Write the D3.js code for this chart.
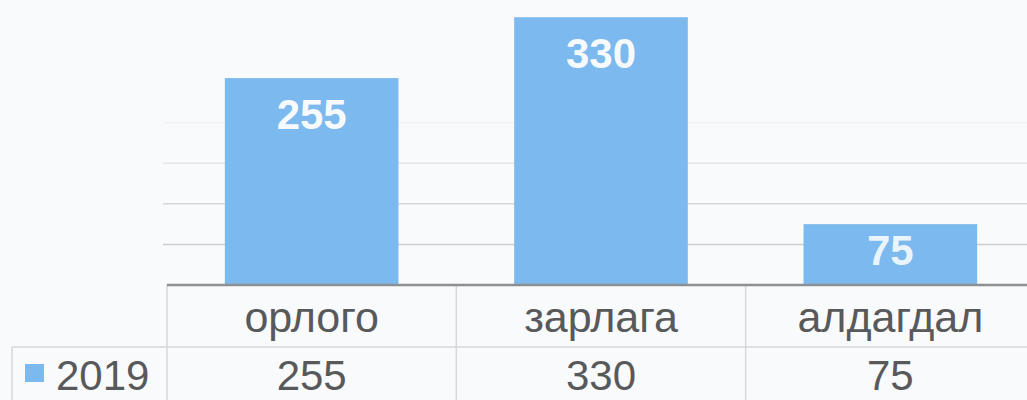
<!DOCTYPE html>
<html>
<head>
<meta charset="utf-8">
<script src="https://cdn.jsdelivr.net/npm/d3@7"></script>
<style>
  body { margin: 0; background: #f8fafb; }
  svg { display: block; font-family: "Liberation Sans", Arial, sans-serif; }
</style>
</head>
<body>
<svg id="chart" width="1027" height="400"></svg>
<script>
const categories = ["орлого", "зарлага", "алдагдал"];
const values2019 = [255, 330, 75];
const seriesName = "2019";
const gridTicks = [50, 100, 150, 200, 250, 300, 350];

const svg = d3.select("#chart");
const W = 1027, H = 400;
const barColor = "#7cb9ee";

let x = d3.scaleBand().domain(categories).range([167, 1035]).paddingInner(0.4).paddingOuter(0.2);
let band = d3.scaleBand().domain(categories).range([167, 1035]);
let y = d3.scaleLinear().domain([0, 350]).range([285, 1]);

// background
svg.append("rect").attr("width", W).attr("height", H).attr("fill", "#f8fafb");

// gridlines (fade toward the top like the photo)
svg.append("g")
  .selectAll("line")
  .data(gridTicks)
  .join("line")
  .attr("x1", 163).attr("x2", W)
  .attr("y1", (d) => y(d)).attr("y2", (d) => y(d))
  .attr("stroke", "#c9cdd1")
  .attr("stroke-width", 1.5)
  .attr("opacity", (d) => Math.max(0, 1 - (d - 50) / 180));

// bars
svg.append("g")
  .selectAll("rect")
  .data(values2019)
  .join("rect")
  .attr("x", (d, i) => x(categories[i]))
  .attr("y", (d) => y(d))
  .attr("width", x.bandwidth())
  .attr("height", (d) => y(0) - y(d))
  .attr("fill", barColor);

// bar labels
svg.append("g")
  .selectAll("text")
  .data(values2019)
  .join("text")
  .attr("x", (d, i) => x(categories[i]) + x.bandwidth() / 2)
  .attr("y", (d) => Math.min(y(d) + 51, y(0) - 20))
  .attr("text-anchor", "middle")
  .attr("font-size", 42)
  .attr("font-weight", "bold")
  .attr("fill", "#ffffff")
  .attr("fill-opacity", (d, i) => (i === 2 ? 0.85 : 0.95))
  .text((d) => d);

// data table
const table = svg.append("g");
const rowSep = 347;

// vertical separators
table.selectAll("line.v")
  .data(categories)
  .join("line")
  .attr("class", "v")
  .attr("x1", (d) => band(d)).attr("x2", (d) => band(d))
  .attr("y1", y(0)).attr("y2", H)
  .attr("stroke", "#d6d9dc").attr("stroke-width", 1.5);

table.append("line")
  .attr("x1", 12).attr("x2", W)
  .attr("y1", rowSep).attr("y2", rowSep)
  .attr("stroke", "#d6d9dc").attr("stroke-width", 1.5);

table.append("line")
  .attr("x1", 12).attr("x2", 12)
  .attr("y1", rowSep).attr("y2", H)
  .attr("stroke", "#d6d9dc").attr("stroke-width", 1.5);

// axis line
table.append("line")
  .attr("x1", band.range()[0]).attr("x2", W)
  .attr("y1", y(0)).attr("y2", y(0))
  .attr("stroke", "#8c9094").attr("stroke-width", 2.5);

// category row
table.selectAll("text.cat")
  .data(categories)
  .join("text")
  .attr("class", "cat")
  .attr("x", (d) => band(d) + band.bandwidth() / 2)
  .attr("y", 332)
  .attr("text-anchor", "middle")
  .attr("font-size", 43)
  .attr("fill", "#58595b")
  .text((d) => d);

// values row
table.selectAll("text.val")
  .data(values2019)
  .join("text")
  .attr("class", "val")
  .attr("x", (d, i) => band(categories[i]) + band.bandwidth() / 2)
  .attr("y", 390)
  .attr("text-anchor", "middle")
  .attr("font-size", 42)
  .attr("fill", "#58595b")
  .text((d) => d);

// legend key
table.append("rect")
  .attr("x", 25).attr("y", 364)
  .attr("width", 19).attr("height", 18)
  .attr("fill", barColor);

table.append("text")
  .attr("x", 56).attr("y", 390)
  .attr("font-size", 42)
  .attr("fill", "#58595b")
  .text(seriesName);
</script>
</body>
</html>
